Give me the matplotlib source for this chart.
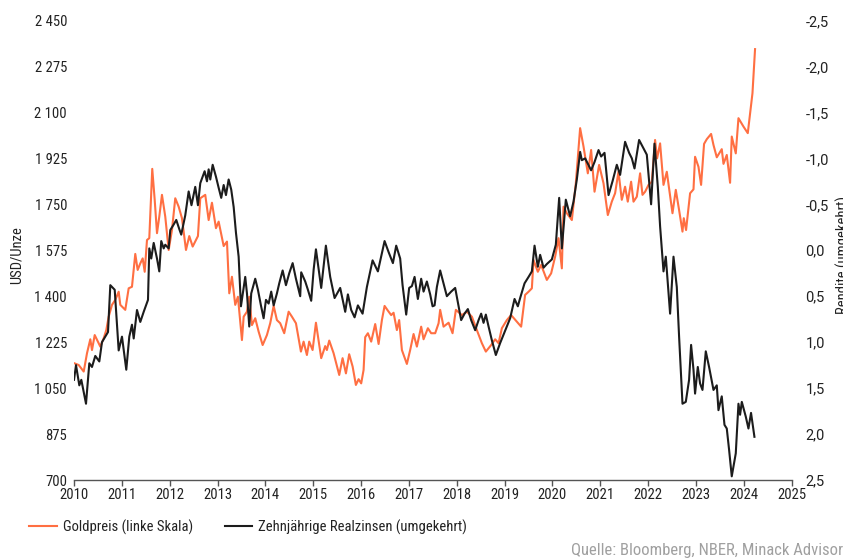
import matplotlib
matplotlib.use("Agg")
import matplotlib.pyplot as plt
from matplotlib import font_manager
from matplotlib.lines import Line2D
from matplotlib.ticker import FuncFormatter, FixedLocator

# ---------------- data ----------------
gold_year = [2010.000, 2010.098, 2010.203, 2010.272, 2010.341, 2010.376, 2010.433, 2010.516, 2010.550, 2010.621,
             2010.675, 2010.725, 2010.794, 2010.863, 2010.934, 2010.968, 2011.072, 2011.143, 2011.212, 2011.281,
             2011.331, 2011.386, 2011.436, 2011.478, 2011.526, 2011.574, 2011.636, 2011.687, 2011.735, 2011.783,
             2011.839, 2011.908, 2011.979, 2012.048, 2012.117, 2012.188, 2012.257, 2012.341, 2012.410, 2012.481,
             2012.591, 2012.640, 2012.744, 2012.815, 2012.884, 2012.968, 2013.024, 2013.129, 2013.198, 2013.246,
             2013.302, 2013.371, 2013.427, 2013.511, 2013.547, 2013.616, 2013.664, 2013.720, 2013.789, 2013.860,
             2013.944, 2014.033, 2014.102, 2014.174, 2014.242, 2014.311, 2014.395, 2014.487, 2014.556, 2014.640,
             2014.696, 2014.744, 2014.800, 2014.869, 2014.917, 2014.988, 2015.058, 2015.168, 2015.252, 2015.287,
             2015.336, 2015.427, 2015.545, 2015.615, 2015.685, 2015.753, 2015.825, 2015.893, 2015.950, 2016.004,
             2016.054, 2016.088, 2016.144, 2016.213, 2016.297, 2016.368, 2016.437, 2016.493, 2016.562, 2016.631,
             2016.681, 2016.750, 2016.798, 2016.855, 2016.959, 2017.028, 2017.099, 2017.168, 2017.258, 2017.308,
             2017.342, 2017.398, 2017.467, 2017.551, 2017.622, 2017.655, 2017.726, 2017.831, 2017.914, 2017.983,
             2018.109, 2018.213, 2018.318, 2018.422, 2018.527, 2018.610, 2018.721, 2018.805, 2018.876, 2018.945,
             2019.049, 2019.139, 2019.258, 2019.348, 2019.431, 2019.503, 2019.572, 2019.607, 2019.697, 2019.766,
             2019.885, 2019.975, 2020.059, 2020.130, 2020.199, 2020.234, 2020.303, 2020.408, 2020.491, 2020.581,
             2020.652, 2020.742, 2020.811, 2020.882, 2020.978, 2021.070, 2021.160, 2021.243, 2021.312, 2021.383,
             2021.452, 2021.521, 2021.577, 2021.647, 2021.697, 2021.766, 2021.835, 2021.885, 2021.940, 2022.011,
             2022.080, 2022.148, 2022.190, 2022.253, 2022.324, 2022.393, 2022.512, 2022.581, 2022.650, 2022.721,
             2022.748, 2022.796, 2022.880, 2022.951, 2022.984, 2023.055, 2023.110, 2023.172, 2023.229, 2023.319,
             2023.369, 2023.438, 2023.542, 2023.578, 2023.647, 2023.716, 2023.751, 2023.835, 2023.891, 2023.996,
             2024.086, 2024.184, 2024.238]

gold_usd = [1145, 1138, 1113, 1183, 1236, 1195, 1252, 1221, 1208, 1240,
            1271, 1322, 1367, 1386, 1417, 1367, 1348, 1430, 1436, 1561,
            1500, 1525, 1544, 1493, 1614, 1621, 1885, 1767, 1640, 1703,
            1786, 1703, 1576, 1652, 1773, 1741, 1697, 1576, 1629, 1589,
            1629, 1773, 1786, 1690, 1756, 1659, 1684, 1591, 1608, 1411,
            1474, 1367, 1398, 1233, 1322, 1341, 1398, 1290, 1316, 1265,
            1214, 1252, 1297, 1363, 1309, 1297, 1259, 1341, 1322, 1297,
            1240, 1189, 1227, 1176, 1227, 1195, 1299, 1164, 1210, 1195,
            1231, 1183, 1100, 1164, 1106, 1179, 1132, 1062, 1084, 1068,
            1119, 1244, 1259, 1227, 1294, 1218, 1309, 1363, 1345, 1328,
            1337, 1271, 1309, 1195, 1142, 1195, 1256, 1208, 1284, 1236,
            1252, 1278, 1259, 1259, 1297, 1348, 1284, 1299, 1259, 1348,
            1328, 1341, 1322, 1271, 1221, 1189, 1214, 1236, 1221, 1278,
            1309, 1328, 1303, 1284, 1405, 1417, 1430, 1538, 1493, 1519,
            1462, 1487, 1551, 1621, 1506, 1741, 1716, 1690, 1830, 2040,
            1970, 1868, 1957, 1798, 1900, 1830, 1709, 1760, 1792, 1874,
            1767, 1817, 1760, 1836, 1760, 1779, 1868, 1786, 1798, 1824,
            1836, 1995, 1925, 1982, 1824, 1874, 1716, 1805, 1728, 1646,
            1697, 1652, 1792, 1807, 1931, 1893, 1824, 1980, 1998, 2018,
            1976, 1929, 1960, 1904, 1938, 1832, 2008, 1944, 2078, 2046,
            2021, 2173, 2341]

rate_year = [2010.000, 2010.042, 2010.111, 2010.153, 2010.251, 2010.320, 2010.376, 2010.445, 2010.529, 2010.585,
             2010.654, 2010.711, 2010.759, 2010.851, 2010.934, 2011.003, 2011.093, 2011.156, 2011.212, 2011.248,
             2011.317, 2011.386, 2011.457, 2011.547, 2011.574, 2011.615, 2011.666, 2011.735, 2011.783, 2011.824,
             2011.875, 2011.908, 2011.979, 2012.013, 2012.084, 2012.138, 2012.201, 2012.242, 2012.326, 2012.397,
             2012.456, 2012.535, 2012.591, 2012.640, 2012.731, 2012.780, 2012.815, 2012.849, 2012.899, 2012.968,
             2013.024, 2013.078, 2013.129, 2013.177, 2013.233, 2013.287, 2013.338, 2013.386, 2013.442, 2013.490,
             2013.547, 2013.580, 2013.616, 2013.664, 2013.705, 2013.789, 2013.845, 2013.908, 2013.964, 2014.013,
             2014.069, 2014.123, 2014.174, 2014.242, 2014.291, 2014.362, 2014.431, 2014.500, 2014.571, 2014.640,
             2014.729, 2014.750, 2014.834, 2014.890, 2014.959, 2015.010, 2015.058, 2015.168, 2015.266, 2015.356,
             2015.448, 2015.565, 2015.670, 2015.726, 2015.795, 2015.866, 2015.935, 2016.033, 2016.123, 2016.242,
             2016.353, 2016.493, 2016.577, 2016.667, 2016.736, 2016.819, 2016.869, 2016.945, 2017.007, 2017.064,
             2017.120, 2017.189, 2017.258, 2017.308, 2017.377, 2017.446, 2017.496, 2017.538, 2017.586, 2017.655,
             2017.726, 2017.795, 2017.885, 2017.969, 2018.040, 2018.094, 2018.165, 2018.234, 2018.303, 2018.387,
             2018.458, 2018.512, 2018.562, 2018.610, 2018.667, 2018.736, 2018.819, 2018.909, 2019.001, 2019.118,
             2019.210, 2019.279, 2019.327, 2019.419, 2019.503, 2019.572, 2019.628, 2019.697, 2019.745, 2019.816,
             2019.885, 2019.990, 2020.073, 2020.143, 2020.199, 2020.282, 2020.372, 2020.443, 2020.512, 2020.581,
             2020.617, 2020.686, 2020.811, 2020.882, 2020.966, 2021.020, 2021.091, 2021.175, 2021.258, 2021.348,
             2021.417, 2021.521, 2021.605, 2021.662, 2021.718, 2021.814, 2021.885, 2021.975, 2022.065, 2022.136,
             2022.205, 2022.253, 2022.324, 2022.372, 2022.462, 2022.533, 2022.602, 2022.650, 2022.721, 2022.790,
             2022.859, 2022.901, 2022.951, 2022.984, 2023.041, 2023.089, 2023.139, 2023.208, 2023.277, 2023.369,
             2023.438, 2023.473, 2023.542, 2023.599, 2023.647, 2023.695, 2023.751, 2023.835, 2023.891, 2023.925,
             2023.961, 2024.044, 2024.100, 2024.154, 2024.225]

rate_pct = [1.41, 1.25, 1.47, 1.41, 1.67, 1.23, 1.27, 1.15, 1.21, 1.00,
            0.94, 0.89, 0.38, 0.43, 1.09, 0.94, 1.30, 0.94, 0.81, 0.96,
            0.65, 0.78, 0.67, 0.54, -0.02, 0.09, -0.08, 0.09, 0.23, -0.10,
            -0.02, -0.06, -0.02, -0.22, -0.28, -0.33, -0.23, -0.17, -0.38, -0.64,
            -0.49, -0.69, -0.49, -0.73, -0.86, -0.75, -0.88, -0.77, -0.93, -0.80,
            -0.68, -0.57, -0.71, -0.60, -0.77, -0.66, -0.47, -0.19, 0.07, 0.61,
            0.41, 0.29, 0.47, 0.83, 0.47, 0.31, 0.43, 0.60, 0.74, 0.54,
            0.58, 0.45, 0.60, 0.47, 0.36, 0.22, 0.38, 0.25, 0.14, 0.31,
            0.50, 0.24, 0.34, 0.43, 0.55, 0.21, -0.01, 0.41, -0.05, 0.29,
            0.52, 0.41, 0.67, 0.48, 0.65, 0.73, 0.60, 0.69, 0.40, 0.11,
            0.23, -0.10, 0.02, 0.14, -0.05, 0.09, 0.38, 0.70, 0.41, 0.39,
            0.29, 0.53, 0.31, 0.45, 0.34, 0.48, 0.61, 0.60, 0.40, 0.22,
            0.36, 0.50, 0.45, 0.41, 0.61, 0.76, 0.69, 0.64, 0.76, 0.87,
            0.76, 0.69, 0.79, 0.70, 0.83, 0.98, 1.14, 1.01, 0.89, 0.74,
            0.53, 0.61, 0.52, 0.36, 0.29, 0.23, -0.05, 0.18, 0.05, 0.19,
            0.15, 0.10, -0.06, -0.57, -0.02, -0.55, -0.37, -0.53, -0.77, -1.07,
            -0.98, -1.00, -0.87, -0.96, -1.09, -1.02, -1.06, -0.60, -0.75, -0.93,
            -0.82, -1.18, -1.06, -1.00, -0.89, -1.20, -1.13, -1.04, -0.50, -1.16,
            -0.69, -0.26, 0.23, 0.07, 0.69, 0.07, 0.40, 0.94, 1.67, 1.65,
            1.41, 1.03, 1.30, 1.56, 1.27, 1.45, 1.52, 1.10, 1.27, 1.52,
            1.47, 1.74, 1.59, 1.90, 1.94, 2.17, 2.46, 2.21, 1.67, 1.79,
            1.65, 1.81, 1.94, 1.77, 2.03]

x_ticks = list(range(2010, 2026))
gold_ticks = [700, 875, 1050, 1225, 1400, 1575, 1750, 1925, 2100, 2275, 2450]
rate_ticks = [-2.5, -2.0, -1.5, -1.0, -0.5, 0.0, 0.5, 1.0, 1.5, 2.0, 2.5]

label_gold = "Goldpreis (linke Skala)"
label_rate = "Zehnjährige Realzinsen (umgekehrt)"
ylabel_left = "USD/Unze"
ylabel_right = "Rendite (umgekehrt)"
source = "Quelle: Bloomberg, NBER, Minack Advisors"

# ---------------- fonts ----------------
available = {f.name for f in font_manager.fontManager.ttflist}
def pick(*names):
    fams = [n for n in names if n in available]
    return fams + ["DejaVu Sans"]

narrow = pick("Liberation Sans Narrow", "Roboto Condensed", "Roboto", "Liberation Sans")
regular = pick("Roboto", "Liberation Sans")
plt.rcParams["font.family"] = narrow

ORANGE = "#ff6f42"
BLACK = "#1c1c1c"
TXT = "#222222"
FS = 10.5

W, H = 843, 558
fig = plt.figure(figsize=(W / 100, H / 100), dpi=100)
x0, x1, ytop, ybot = 74, 791.5, 20.5, 480
ax = fig.add_axes([x0 / W, 1 - ybot / H, (x1 - x0) / W, (ybot - ytop) / H])
ax2 = ax.twinx()

ax.plot(gold_year, gold_usd, color=ORANGE, lw=1.5, zorder=2)
ax2.plot(rate_year, rate_pct, color=BLACK, lw=1.5, zorder=3)

ax.set_xlim(2010, 2025)
ax.set_ylim(700, 2450)
ax2.set_ylim(2.5, -2.5)

ax.xaxis.set_major_locator(FixedLocator(x_ticks))
ax.yaxis.set_major_locator(FixedLocator(gold_ticks))
ax2.yaxis.set_major_locator(FixedLocator(rate_ticks))

ax.yaxis.set_major_formatter(FuncFormatter(lambda v, p: f"{int(round(v)):,}".replace(",", " ")))
def rfmt(v, p):
    s = f"{v:.1f}".replace(".", ",")
    return "0,0" if s in ("-0,0",) else s
ax2.yaxis.set_major_formatter(FuncFormatter(rfmt))

for a in (ax, ax2):
    for s in ("top", "left", "right"):
        a.spines[s].set_visible(False)
ax2.spines["bottom"].set_visible(False)
ax.spines["bottom"].set_color("#555555")
ax.spines["bottom"].set_linewidth(1.0)

ax.tick_params(axis="x", length=4, width=1.0, color="#555555", labelsize=FS,
               labelcolor=TXT, pad=2)
ax.tick_params(axis="y", length=0, labelsize=FS, labelcolor=TXT, pad=5)
ax2.tick_params(axis="y", length=0, labelsize=FS, labelcolor=TXT, pad=10)
for t in ax2.get_yticklabels():
    t.set_family(regular)

ax.set_ylabel(ylabel_left, fontsize=FS, color=TXT)
ax.yaxis.set_label_coords(-(x0 - 24) / (x1 - x0), 0.49)
ax2.set_ylabel(ylabel_right, fontsize=FS, color=TXT, rotation=90)
ax2.yaxis.set_label_coords((836 - x0) / (x1 - x0), 0.49)

handles = [Line2D([], [], color=ORANGE, lw=1.5), Line2D([], [], color=BLACK, lw=1.5)]
fig.legend(handles, [label_gold, label_rate], loc="center left",
           bbox_to_anchor=(29 / W, 1 - 527 / H), ncol=2, frameon=False,
           fontsize=FS, handlelength=1.9, handletextpad=0.4, columnspacing=2.2,
           borderpad=0, borderaxespad=0, labelcolor=TXT)

fig.text(571 / W, 1 - 550 / H, source, fontsize=12, color="#a0a0a0", va="center", ha="left")

fig.savefig("out.png", dpi=100)
